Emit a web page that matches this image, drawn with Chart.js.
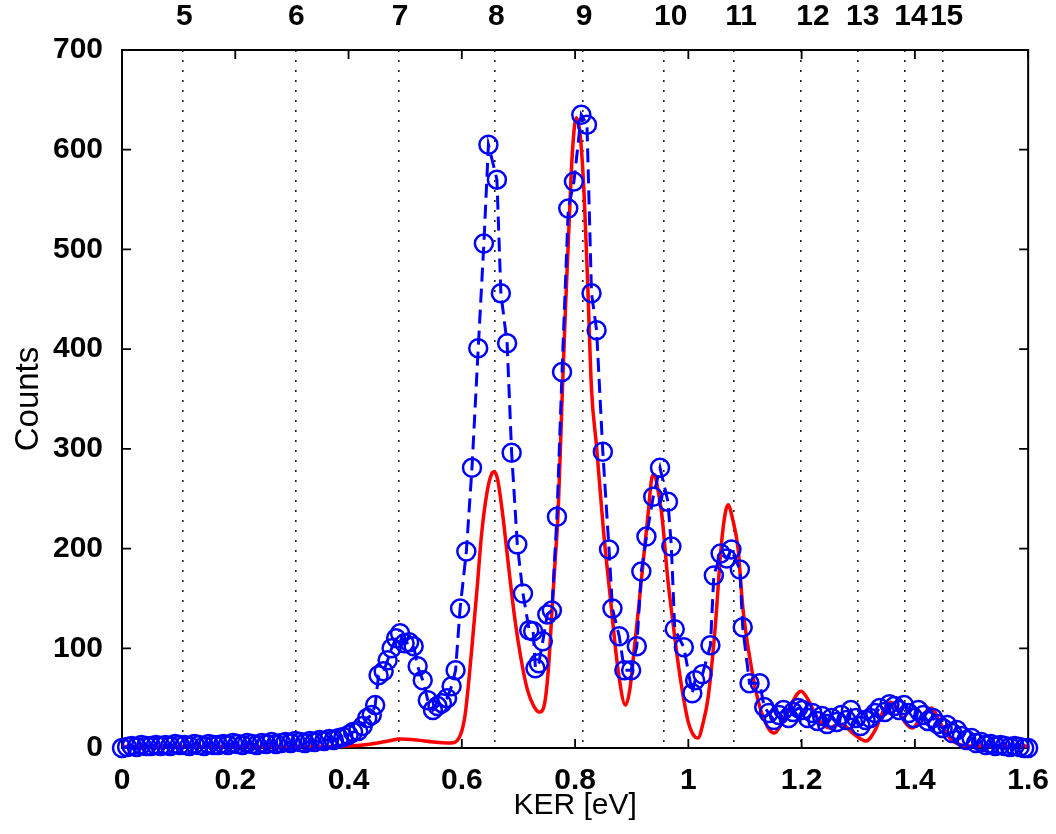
<!DOCTYPE html>
<html><head><meta charset="utf-8">
<script src="https://cdn.jsdelivr.net/npm/chart.js@4.4.1/dist/chart.umd.min.js"></script>
<style>html,body{margin:0;padding:0;background:#fff}#wrap{width:1056px;height:834px}</style>
</head><body><div id="wrap"><canvas id="c" width="1056" height="834"></canvas></div>
<script>
// Measured spectrum (blue circles)
const blueKER = [0.000,0.009,0.017,0.026,0.034,0.043,0.051,0.060,0.068,0.077,0.085,0.094,0.102,0.111,0.119,0.128,0.136,0.145,0.153,0.162,0.170,0.179,0.187,0.196,0.204,0.213,0.221,0.230,0.238,0.247,0.255,0.264,0.272,0.281,0.289,0.298,0.306,0.315,0.323,0.332,0.340,0.349,0.357,0.366,0.374,0.383,0.391,0.400,0.408,0.417,0.425,0.433,0.441,0.447,0.453,0.462,0.469,0.476,0.484,0.491,0.499,0.507,0.515,0.522,0.531,0.540,0.549,0.557,0.565,0.574,0.582,0.589,0.597,0.608,0.618,0.629,0.639,0.647,0.662,0.669,0.680,0.688,0.698,0.708,0.719,0.726,0.730,0.736,0.743,0.751,0.759,0.768,0.777,0.788,0.798,0.811,0.821,0.829,0.838,0.849,0.860,0.866,0.878,0.887,0.899,0.909,0.917,0.926,0.938,0.950,0.964,0.970,0.976,0.992,1.007,1.012,1.025,1.039,1.045,1.057,1.068,1.076,1.091,1.096,1.108,1.126,1.134,1.142,1.151,1.160,1.168,1.177,1.185,1.194,1.202,1.211,1.219,1.228,1.236,1.245,1.253,1.262,1.270,1.279,1.287,1.296,1.304,1.313,1.321,1.330,1.338,1.347,1.355,1.364,1.372,1.381,1.389,1.398,1.406,1.415,1.423,1.432,1.440,1.449,1.457,1.466,1.474,1.483,1.491,1.500,1.508,1.517,1.525,1.534,1.542,1.551,1.559,1.568,1.576,1.585,1.593,1.600];
const blueCounts = [0,1,2,1,3,2,2,3,2,3,2,4,3,3,2,4,3,2,4,3,3,4,3,5,4,3,5,4,3,5,4,6,4,5,6,5,7,6,5,7,6,8,7,9,8,10,11,13,16,17,22,30,33,43,73,77,88,100,110,115,105,106,102,82,68,48,38,42,45,50,62,78,140,197,281,401,506,605,570,456,406,296,204,155,118,117,80,85,107,134,138,232,377,541,568,635,625,456,419,297,199,140,112,78,78,102,177,212,252,281,247,202,119,101,55,68,74,103,173,195,190,199,179,121,65,65,41,35,28,33,38,30,36,40,38,30,35,27,32,24,30,26,33,28,38,30,22,28,30,35,40,36,44,42,38,43,35,30,38,33,27,30,24,20,23,15,18,12,8,10,5,6,3,4,2,3,2,1,2,1,0,0];
// Simulated spectrum (red line)
const fitKER = [0.00,0.10,0.20,0.30,0.36,0.40,0.44,0.47,0.49,0.52,0.55,0.58,0.595,0.605,0.612,0.620,0.627,0.635,0.645,0.652,0.657,0.663,0.672,0.683,0.694,0.705,0.716,0.727,0.737,0.746,0.753,0.759,0.765,0.770,0.777,0.783,0.789,0.795,0.802,0.809,0.816,0.822,0.829,0.838,0.850,0.862,0.876,0.889,0.897,0.905,0.913,0.920,0.929,0.936,0.940,0.946,0.953,0.964,0.973,0.982,0.990,0.999,1.008,1.017,1.026,1.035,1.047,1.058,1.065,1.070,1.078,1.088,1.096,1.108,1.123,1.140,1.152,1.165,1.180,1.199,1.212,1.228,1.249,1.262,1.273,1.290,1.314,1.330,1.345,1.358,1.372,1.385,1.396,1.410,1.429,1.445,1.462,1.481,1.50,1.55,1.60];
const fitCounts = [1.5,1.5,1.5,1.5,1.5,2,4,7,9,8,6,5,10,30,65,115,160,215,258,274,277,270,235,180,128,88,58,42,36,44,80,135,190,235,349,440,520,595,632,615,555,470,360,302,219,152,78,43,60,102,145,185,235,272,274,260,235,168,125,85,55,28,14,10,25,51,118,202,235,244,230,199,142,92,48,21,15,25,42,57,48,30,20,23,23,15,7,18,38,46,36,24,20,30,40,25,10,3,2,2,2];
// Vibrational levels: dotted marker lines and their labels on top
const levelKER = [0.108,0.306,0.489,0.658,0.813,0.957,1.081,1.198,1.299,1.382,1.450];
const levelLabelKER = [0.110,0.308,0.491,0.661,0.816,0.969,1.093,1.220,1.308,1.393,1.456];
const levelLabels = ['5','6','7','8','9','10','11','12','13','14','15'];
// Axis ticks
const xTickValues = [0,0.2,0.4,0.6,0.8,1.0,1.2,1.4,1.6];
const xTickLabels = ['0','0.2','0.4','0.6','0.8','1','1.2','1.4','1.6'];
const yTickValues = [0,100,200,300,400,500,600,700];

const FAM = "'Liberation Sans', Arial, sans-serif";

const framePlugin = {
  id: 'frame',
  beforeDatasetsDraw(chart) {
    const {ctx, chartArea: a, scales: {x, y}} = chart;
    ctx.save();
    ctx.strokeStyle = '#000';
    ctx.lineWidth = 2;
    ctx.strokeRect(a.left, a.top, a.right - a.left, a.bottom - a.top);
    ctx.lineWidth = 1.8;
    ctx.beginPath();
    x.ticks.forEach(t => {
      const px = x.getPixelForValue(t.value);
      ctx.moveTo(px, a.bottom); ctx.lineTo(px, a.bottom - 9);
      ctx.moveTo(px, a.top); ctx.lineTo(px, a.top + 9);
    });
    y.ticks.forEach(t => {
      const py = y.getPixelForValue(t.value);
      ctx.moveTo(a.left, py); ctx.lineTo(a.left + 9, py);
      ctx.moveTo(a.right, py); ctx.lineTo(a.right - 9, py);
    });
    ctx.stroke();
    ctx.restore();
  }
};

new Chart(document.getElementById('c'), {
  type: 'scatter',
  data: {
    datasets: [
      {
        label: 'exp',
        data: blueKER.map((k, i) => ({x: k, y: blueCounts[i]})),
        showLine: true,
        borderColor: '#0000ff',
        borderWidth: 3,
        borderDash: [14, 7],
        tension: 0,
        pointStyle: 'circle',
        pointRadius: 9,
        pointBorderWidth: 2.5,
        pointBorderColor: '#0000ff',
        pointBackgroundColor: 'rgba(0,0,0,0)',
        clip: false
      },
      {
        label: 'fit',
        data: fitKER.map((k, i) => ({x: k, y: fitCounts[i]})),
        showLine: true,
        borderColor: '#ff0000',
        borderWidth: 3.5,
        pointRadius: 0,
        cubicInterpolationMode: 'monotone',
        clip: false
      }
    ]
  },
  options: {
    responsive: false,
    animation: false,
    events: [],
    layout: {padding: {left: 0, right: 25, top: 0, bottom: 0}},
    plugins: {legend: {display: false}, tooltip: {enabled: false}},
    scales: {
      x: {
        type: 'linear', position: 'bottom', min: 0, max: 1.6,
        afterBuildTicks: s => { s.ticks = xTickValues.map(v => ({value: v})); },
        afterFit: s => { s.height = 86; },
        grid: {display: false},
        border: {display: false},
        ticks: {
          callback: (v, i) => xTickLabels[i],
          font: {family: FAM, size: 30, weight: 'bold'}, color: '#000',
          padding: 7, maxRotation: 0, autoSkip: false
        },
        title: {display: true, text: 'KER [eV]', font: {family: FAM, size: 30}, color: '#000', padding: {top: 0, bottom: 10}}
      },
      x2: {
        type: 'linear', position: 'top', min: 0, max: 1.6,
        afterBuildTicks: s => { s.ticks = levelLabelKER.map(v => ({value: v})); },
        afterFit: s => { s.height = 50; },
        grid: {display: false},
        border: {display: false},
        ticks: {
          callback: (v, i) => levelLabels[i],
          font: {family: FAM, size: 30, weight: 'bold'}, color: '#000',
          padding: 7, maxRotation: 0, autoSkip: false
        }
      },
      x3: {
        type: 'linear', position: 'top', min: 0, max: 1.6,
        afterBuildTicks: s => { s.ticks = levelKER.map(v => ({value: v})); },
        afterFit: s => { s.height = 0; },
        grid: {display: true, drawOnChartArea: true, drawTicks: false, color: '#222', lineWidth: 1.6, borderDash: [2, 8]},
        border: {display: false, dash: [2, 8]},
        ticks: {display: false}
      },
      y: {
        type: 'linear', position: 'left', min: 0, max: 700,
        afterBuildTicks: s => { s.ticks = yTickValues.map(v => ({value: v})); },
        afterFit: s => { s.width = 122; },
        grid: {display: false},
        border: {display: false},
        ticks: {
          callback: v => String(v),
          font: {family: FAM, size: 30, weight: 'bold'}, color: '#000',
          padding: 11
        },
        title: {display: true, text: 'Counts', font: {family: FAM, size: 33}, color: '#000', padding: {top: 9, bottom: 0}}
      }
    }
  },
  plugins: [framePlugin]
});
</script>
</body></html>
